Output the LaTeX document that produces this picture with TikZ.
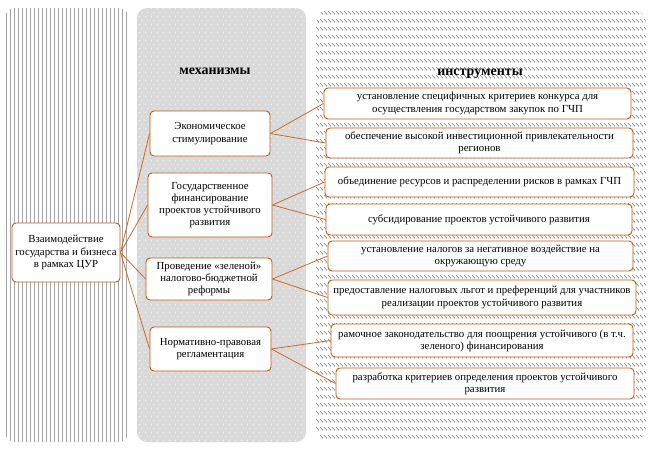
\documentclass[tikz,border=0pt]{standalone}
\usepackage{fontspec}
\setmainfont{Liberation Serif}
\usetikzlibrary{patterns}
\definecolor{orng}{RGB}{197,90,17}
\definecolor{midgray}{RGB}{217,217,217}
\pgfdeclarepatternformonly{hatchrows}{\pgfpointorigin}{\pgfqpoint{4pt}{8pt}}{\pgfqpoint{4pt}{8pt}}{%
  \pgfsetlinewidth{0.7pt}%
  \pgfpathmoveto{\pgfqpoint{0.3pt}{7.6pt}}\pgfpathlineto{\pgfqpoint{3.7pt}{4.0pt}}\pgfusepath{stroke}}
\pgfdeclarepatternformonly{wdots}{\pgfpointorigin}{\pgfqpoint{6pt}{8pt}}{\pgfqpoint{6pt}{8pt}}{%
  \pgfpathcircle{\pgfqpoint{1.5pt}{2pt}}{0.65pt}%
  \pgfpathcircle{\pgfqpoint{4.5pt}{6pt}}{0.65pt}\pgfusepath{fill}}
\tikzset{
  box/.style={draw=orng, line width=0.9pt, fill=white, rounded corners=4pt, align=center,
    inner sep=1pt, font=\fontsize{10.8}{12.2}\selectfont},
  conn/.style={draw=orng!90, line width=0.8pt},
  head/.style={font=\fontsize{14}{16}\selectfont\bfseries},
  stripe/.style={draw=black!35, line width=0.7pt}
}
\begin{document}
\begin{tikzpicture}[x=1pt, y=-1pt]
\useasboundingbox (0,0) rectangle (657,450);
% panels
\begin{scope}
  \clip[rounded corners=10pt] (5,8) rectangle (129,442);
  \foreach \x in {6,10,...,128} \draw[stripe] (\x,0) -- (\x,450);
\end{scope}
\fill[midgray, rounded corners=10pt] (137,8) rectangle (306,442);
\path[pattern=wdots, pattern color=white, rounded corners=10pt] (137,8) rectangle (306,442);
\path[pattern=hatchrows, pattern color=black!50, rounded corners=16pt] (316,8) rectangle (646,442);
% headers
\node[head] (h1) at (215,71) {механизмы};
\node[head] (h2) at (480,74) {инструменты};
% left node
\node[box, minimum width=108pt, minimum height=59pt] (L) at (66,252.5)
  {Взаимодействие\\государства и бизнеса\\в рамках ЦУР};
% middle nodes
\node[box, minimum width=120pt, minimum height=45pt] (M1) at (210,133.5)
  {Экономическое\\стимулирование};
\node[box, minimum width=124pt, minimum height=64pt] (M2) at (210,205)
  {Государственное\\финансирование\\проектов устойчивого\\развития};
\node[box, minimum width=126pt, minimum height=42pt] (M3) at (209,279)
  {Проведение «зеленой»\\налогово-бюджетной\\реформы};
\node[box, minimum width=121pt, minimum height=44pt] (M4) at (210.5,349)
  {Нормативно-правовая\\регламентация};
% right nodes
\node[box, minimum width=307pt, minimum height=31pt] (R1) at (477.5,103.5)
  {установление специфичных критериев конкурса для\\осуществления государством закупок по ГЧП};
\node[box, minimum width=307pt, minimum height=30pt] (R2) at (479.5,143)
  {обеспечение высокой инвестиционной привлекательности\\регионов};
\node[box, minimum width=309pt, minimum height=30pt] (R3) at (479.5,182)
  {объединение ресурсов и распределении рисков в рамках ГЧП};
\node[box, minimum width=306pt, minimum height=31pt] (R4) at (479,219.5)
  {субсидирование проектов устойчивого развития};
\node[box, minimum width=305pt, minimum height=30pt] (R5) at (480.5,256)
  {установление налогов за негативное воздействие на\\окружающую среду};
\node[box, minimum width=308pt, minimum height=35pt] (R6) at (482,297.5)
  {предоставление налоговых льгот и преференций для участников\\реализации проектов устойчивого развития};
\node[box, minimum width=302pt, minimum height=33pt] (R7) at (482,340.5)
  {рамочное законодательство для поощрения устойчивого (в т.ч.\\зеленого) финансирования};
\node[box, minimum width=298pt, minimum height=31pt] (R8) at (485,383.5)
  {разработка критериев определения проектов устойчивого\\развития};
% connectors
\foreach \m in {M1,M2,M3,M4} \draw[conn] (L.east) -- (\m.west);
\draw[conn] (M1.east) -- (R1.west);
\draw[conn] (M1.east) -- (R2.west);
\draw[conn] (M2.east) -- (R3.west);
\draw[conn] (M2.east) -- (R4.west);
\draw[conn] (M3.east) -- (R5.west);
\draw[conn] (M3.east) -- (R6.west);
\draw[conn] (M4.east) -- (R7.west);
\draw[conn] (M4.east) -- (R8.west);
\end{tikzpicture}
\end{document}
